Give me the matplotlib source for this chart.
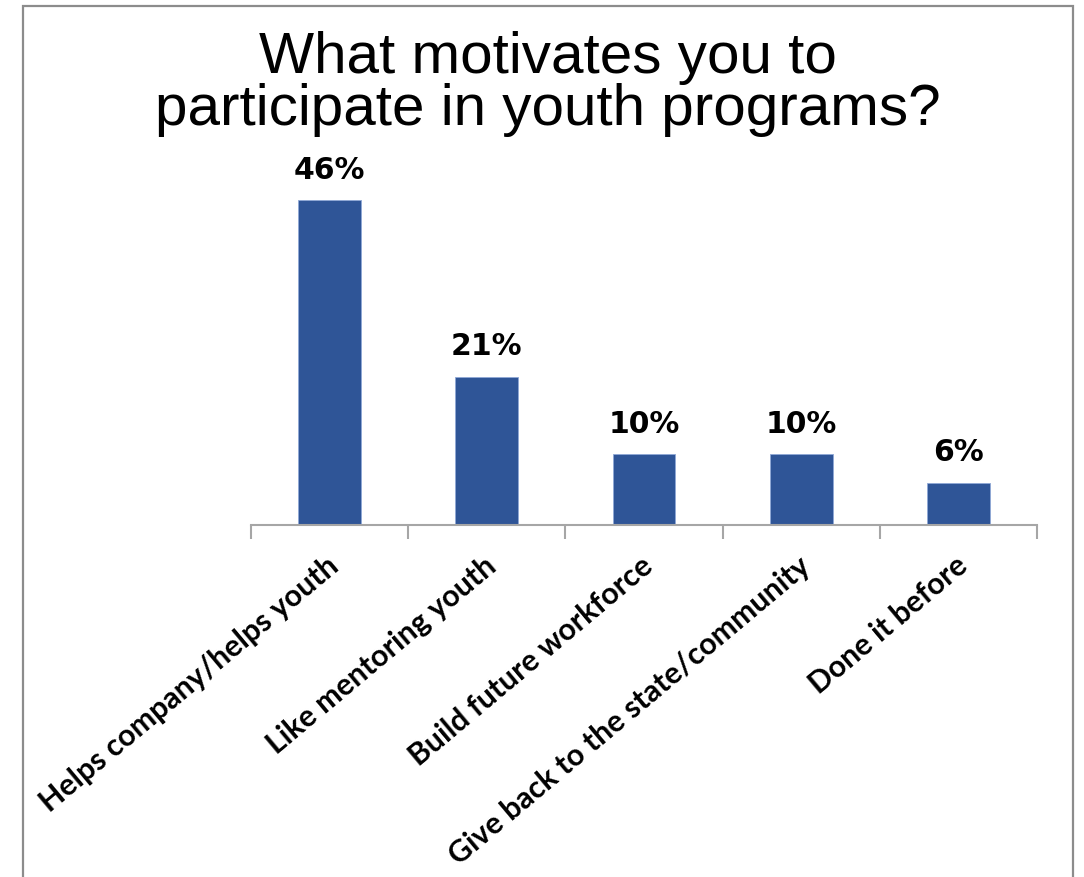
import matplotlib.pyplot as plt
from matplotlib.patches import Rectangle
import numpy as np

categories = [
    "Helps company/helps youth",
    "Like mentoring youth",
    "Build future workforce",
    "Give back to the state/community",
    "Done it before",
]
percentages = [46, 21, 10, 10, 6]
title_text = "What motivates you to\nparticipate in youth programs?"

bar_color = "#2F5597"
axis_color = "#A6A6A6"

fig = plt.figure(figsize=(10.84, 8.78), dpi=100)

# outer frame, bottom edge runs off the page like in the original
fig.patches.append(
    Rectangle((23 / 1084, -0.05), 1050 / 1084, 1.05 - 7 / 878,
              transform=fig.transFigure, fill=False,
              edgecolor="#8C8C8C", linewidth=1.6)
)

ax = fig.add_axes([251 / 1084, 1 - 526 / 878, 786 / 1084, 353.5 / 878])

x = np.arange(len(categories))
ax.bar(x, percentages, width=0.4, color=bar_color, edgecolor="#8FA8D6", linewidth=0.6)

ax.set_xlim(-0.5, len(categories) - 0.5)
ax.set_ylim(0, 50)

for xi, val in zip(x, percentages):
    ax.text(xi, val + 2.3, f"{val}%", ha="center", va="bottom",
            fontsize=21.5, fontweight="bold", family="DejaVu Sans")

for side in ["top", "right", "left"]:
    ax.spines[side].set_visible(False)
ax.spines["bottom"].set_color(axis_color)
ax.spines["bottom"].set_linewidth(1.5)
ax.set_yticks([])

# ticks sit between the categories
ax.set_xticks(np.arange(-0.5, len(categories)), minor=False)
ax.tick_params(axis="x", length=10, width=1.5, color=axis_color, labelbottom=False)

for xi, label in zip(x, categories):
    ax.annotate(label, xy=(xi, 0), xycoords="data",
                xytext=(4, -26), textcoords="offset points",
                rotation=40, rotation_mode="anchor", ha="right", va="center",
                fontsize=21.8, fontweight="bold", family="Lato")

fig.text(548 / 1084, 1 - 84 / 878, title_text, ha="center", va="center",
         fontsize=42, family="Liberation Sans", linespacing=0.95)

plt.savefig("out.png", dpi=100)
